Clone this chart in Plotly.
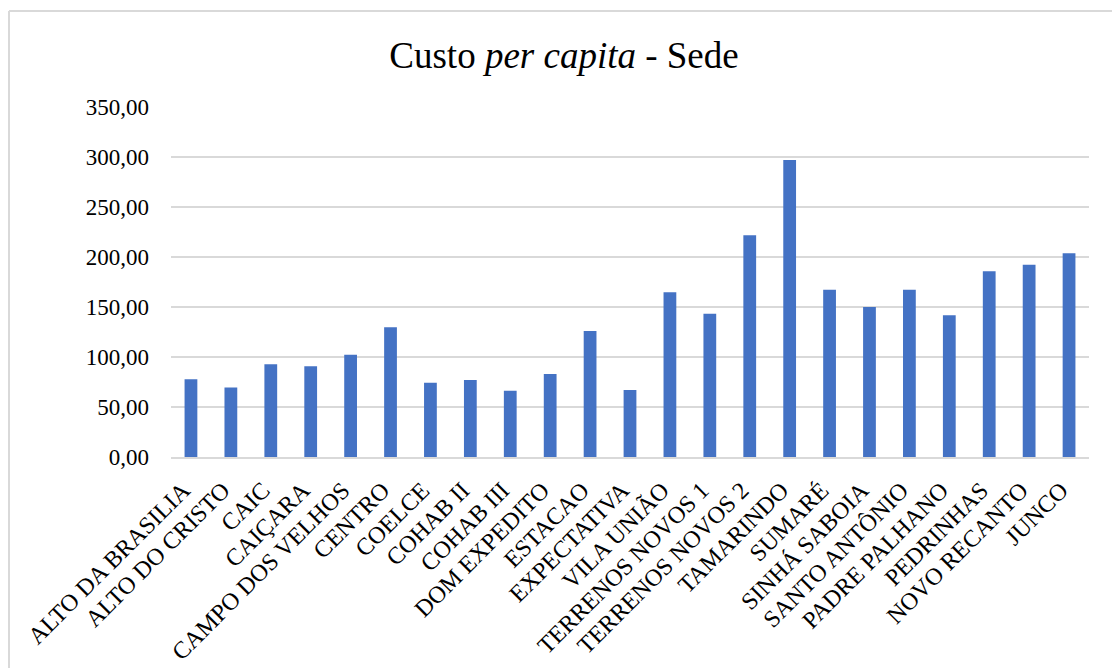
import plotly.graph_objects as go

categories = ["ALTO DA BRASILIA", "ALTO DO CRISTO", "CAIC", "CAIÇARA", "CAMPO DOS VELHOS",
              "CENTRO", "COELCE", "COHAB II", "COHAB III", "DOM EXPEDITO", "ESTACAO",
              "EXPECTATIVA", "VILA UNIÃO", "TERRENOS NOVOS 1", "TERRENOS NOVOS 2",
              "TAMARINDO", "SUMARÉ", "SINHÁ SABOIA", "SANTO ANTÔNIO", "PADRE PALHANO",
              "PEDRINHAS", "NOVO RECANTO", "JUNCO"]
values = [77.7, 69.5, 92.7, 90.7, 102.3, 129.7, 74.3, 77.0, 66.3, 83.0, 126.0,
          67.0, 164.7, 143.3, 221.7, 297.0, 167.3, 150.0, 167.3, 141.7, 185.7, 192.3, 203.7]
tick_vals = [0, 50, 100, 150, 200, 250, 300, 350]
tick_text = ["0,00", "50,00", "100,00", "150,00", "200,00", "250,00", "300,00", "350,00"]

W, H = 1112, 668
L, R, T, B = 171, 23, 107, 211
pw, ph = W - L - R, H - T - B

fig = go.Figure(go.Bar(x=categories, y=values, marker=dict(color="#4472C4", line=dict(width=0))))

fig.update_layout(
    width=W, height=H,
    margin=dict(l=L, r=R, t=T, b=B, autoexpand=False),
    paper_bgcolor="white", plot_bgcolor="white",
    bargap=0.68,
    font=dict(family="Liberation Serif, Times New Roman, serif", color="black", size=23),
    title=dict(text="Custo <i>per capita</i> - Sede", x=564 / W, xref="container", xanchor="center",
               y=1 - 55 / H, yref="container", yanchor="middle",
               font=dict(size=37, family="Liberation Serif, Times New Roman, serif", color="black")),
    showlegend=False,
    xaxis=dict(tickangle=-45, showgrid=False, showline=True, linecolor="#d9d9d9", linewidth=1.5,
               ticks="", tickfont=dict(size=24), ticklabelshift=-8, ticklabelstandoff=8),
    yaxis=dict(range=[0, 350], tickvals=tick_vals, ticktext=tick_text, showgrid=True,
               gridcolor="#d9d9d9", gridwidth=1.5, zeroline=False, showline=False, ticks="",
               ticklabelstandoff=21),
    shapes=[
        dict(type="line", xref="paper", yref="paper",
             x0=(9 - L) / pw, x1=(9 - L) / pw, y0=(H - B - H - 10) / ph, y1=(H - B - 11) / ph,
             line=dict(color="#d9d9d9", width=2)),
        dict(type="line", xref="paper", yref="paper",
             x0=(9 - L) / pw, x1=(W + 10 - L) / pw, y0=(H - B - 11) / ph, y1=(H - B - 11) / ph,
             line=dict(color="#d9d9d9", width=2)),
    ],
)

fig.write_html("out.html")
